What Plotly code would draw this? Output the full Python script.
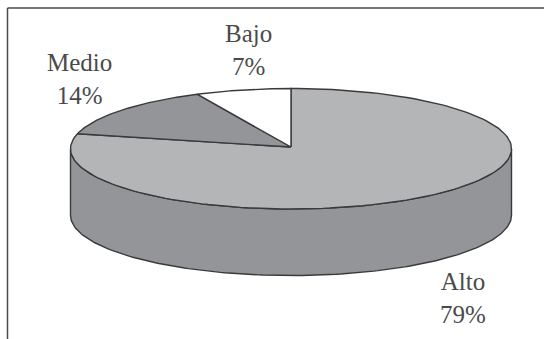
import numpy as np
import plotly.graph_objects as go

# Survey shares, drawn clockwise from twelve o'clock
categories = ["Alto", "Medio", "Bajo"]
shares = [79, 14, 7]
slice_colors = ["#b4b5b7", "#939598", "#ffffff"]
side_color = "#939598"
edge_color = "#3a3a3c"
text_color = "#4a4a4c"

# Pixel layout of the flattened disc
WIDTH, HEIGHT = 544, 339
CX, CY, RX, RY, DEPTH = 291.0, 148.75, 220.5, 60.25, 66.5
APEX_Y = 147.0
label_x = [463, 79, 248]
label_y = [298, 79, 50]


def rim(start_deg, end_deg, drop=0.0, n=160):
    """Rim of the disc between two angles, in pixel coordinates."""
    t = np.radians(np.linspace(start_deg, end_deg, n))
    return CX + RX * np.cos(t), CY + drop - RY * np.sin(t)


fig = go.Figure()

# Wall of the cylinder: lower half of the rim, pushed down by the depth
top_x, top_y = rim(180, 360)
low_x, low_y = rim(360, 180, DEPTH)
fig.add_trace(go.Scatter(
    x=np.concatenate([top_x, low_x, top_x[:1]]),
    y=np.concatenate([top_y, low_y, top_y[:1]]),
    mode="lines", fill="toself", fillcolor=side_color,
    line=dict(color=edge_color, width=1.4), hoverinfo="skip",
))

# Top face: one wedge per category, the largest one first
angle = 90.0
for share, color in zip(shares, slice_colors):
    sweep = share / sum(shares) * 360
    arc_x, arc_y = rim(angle, angle - sweep)
    fig.add_trace(go.Scatter(
        x=np.concatenate([[CX], arc_x, [CX]]),
        y=np.concatenate([[APEX_Y], arc_y, [APEX_Y]]),
        mode="lines", fill="toself", fillcolor=color,
        line=dict(color=edge_color, width=1.4), hoverinfo="skip",
    ))
    angle -= sweep

# Category name above its percentage
for name, share, x, y in zip(categories, shares, label_x, label_y):
    fig.add_annotation(
        x=x, y=y, xref="x", yref="y", showarrow=False,
        text=f"{name}<br>{share}%", align="center",
        font=dict(family="Liberation Serif", size=25, color=text_color),
    )

# Open frame: only the top and left rules are present
frame = dict(color="#4a4a4c", width=1.5)
fig.add_shape(type="line", x0=7.5, x1=WIDTH, y0=8, y1=8, line=frame)
fig.add_shape(type="line", x0=7.5, x1=7.5, y0=8, y1=HEIGHT, line=frame)

fig.update_layout(
    width=WIDTH, height=HEIGHT, margin=dict(l=0, r=0, t=0, b=0),
    paper_bgcolor="white", plot_bgcolor="white", showlegend=False,
    xaxis=dict(range=[0, WIDTH], visible=False, fixedrange=True),
    yaxis=dict(range=[HEIGHT, 0], visible=False, fixedrange=True),
)
fig.write_html("out.html", config={"displayModeBar": False})
